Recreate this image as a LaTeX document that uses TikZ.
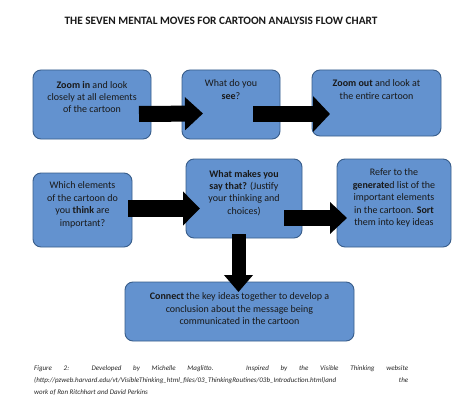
\documentclass[tikz,border=0pt]{standalone}
\usepackage{fontspec}
\setmainfont{Carlito}
\usetikzlibrary{arrows.meta,calc,decorations.pathmorphing}
\definecolor{boxfill}{RGB}{99,146,207}
\definecolor{boxline}{RGB}{56,93,138}
\definecolor{txt}{RGB}{25,25,25}
\begin{document}
\begin{tikzpicture}[x=1pt,y=-1pt,
  stepbox/.style={draw=boxline,fill=boxfill,line width=0.9pt,rounded corners=8pt,
    inner sep=0pt,outer sep=0pt,font=\fontsize{10}{12.4}\selectfont,text=txt},
  bigarrow/.style={draw=black,line width=#1},
  captext/.style={anchor=base west,inner sep=0pt,font=\fontsize{7}{8}\selectfont\itshape,text=black!85}
]
\useasboundingbox (0,0) rectangle (458,420);
\fill[white] (0,0) rectangle (458,420);
\newcommand{\boxtext}[4]{\parbox[c][#2pt][t]{#1pt}{\centering\vspace*{#3pt}#4}}

\node[font=\fontsize{11.3}{13}\selectfont\bfseries,text=txt,anchor=base] (title) at (221,25)
  {THE SEVEN MENTAL MOVES FOR CARTOON ANALYSIS FLOW CHART};

\node[stepbox] (b1) at (92,104.5) {\boxtext{118}{69}{11}{\textbf{Zoom in} and look\\ closely at all elements\\ of the cartoon}};
\node[stepbox] (b2) at (231,104.5) {\boxtext{98}{69}{10}{What do you\\ \textbf{see}?}};
\node[stepbox] (b3) at (376.5,103) {\boxtext{129}{66}{10}{\textbf{Zoom out} and look at\\ the entire cartoon}};

\node[stepbox] (b4) at (82.5,210) {\boxtext{99}{74}{9}{Which elements\\ of the cartoon do\\ you \textbf{think} are\\ important?}};
\node[stepbox] (b5) at (244,198.5) {\boxtext{116}{79}{11}{\textbf{What makes you}\\ \textbf{say that?} (Justify\\ your thinking and\\ choices)}};
\node[stepbox] (b6) at (394,203) {\boxtext{114}{88}{10}{Refer to the\\ \textbf{generate}d list of the\\ important elements\\ in the cartoon. \textbf{Sort}\\ them into key ideas}};

\node[stepbox] (b7) at (239.5,311.5) {\boxtext{229}{59}{11}{\textbf{Connect} the key ideas together to develop a\\ conclusion about the message being\\ communicated in the cartoon}};

% block arrows
\draw[bigarrow=16pt,-{Triangle[length=18pt,width=32pt]}]
  ($(b1.east)+(-12,9.5)$) -- ($(b2.west)+(21,9)$);
\draw[bigarrow=16pt,-{Triangle[length=17pt,width=35pt]}]
  ($(b2.east)+(-27,9.5)$) -- ($(b3.west)+(18,11)$);
\draw[bigarrow=17pt,-{Triangle[length=17pt,width=33pt]}]
  ($(b4.east)+(-4,-1.5)$) -- ($(b5.west)+(14,10)$);
\draw[bigarrow=16pt,-{Triangle[length=17pt,width=31pt]}]
  ($(b5.east)+(-18,19.5)$) -- ($(b6.west)+(10,15)$);
\draw[bigarrow=14pt,-{Triangle[length=17pt,width=28pt]}]
  ($(b5.south)+(-5.5,-4)$) -- ($(b7.north)+(-1,10)$);

% caption
\node[captext] (c1) at (34,370) {\makebox[374pt][s]{Figure 2: Developed by Michelle Maglitto. Inspired by the Visible Thinking website}};
\node[captext] (c2) at (34,382) {\makebox[374pt][s]{(http://pzweb.harvard.edu/vt/VisibleThinking\_html\_files/03\_ThinkingRoutines/03b\_Introduction.html)and the}};
\node[captext] (c3) at (34,394) {work of Ron Ritchhart and David Perkins};
\end{tikzpicture}
\end{document}
